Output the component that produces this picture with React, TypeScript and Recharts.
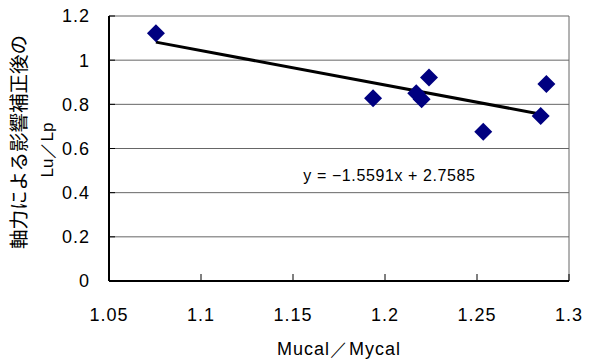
import {
  ComposedChart,
  Scatter,
  XAxis,
  YAxis,
  CartesianGrid,
  ReferenceLine,
  ReferenceDot,
} from "recharts";

// measured points (Mucal/Mycal, Lu/Lp)
const xValues = [1.0755, 1.1935, 1.217, 1.2199, 1.2239, 1.2534, 1.2846, 1.2877];
const yValues = [1.122, 0.827, 0.85, 0.823, 0.922, 0.676, 0.747, 0.892];
const xTicks = [1.05, 1.1, 1.15, 1.2, 1.25, 1.3];
const yTicks = [0, 0.2, 0.4, 0.6, 0.8, 1, 1.2];

const slope = -1.5591;
const intercept = 2.7585;
const equation = "y = −1.5591x + 2.7585";

const points = xValues.map((x, i) => ({ x, y: yValues[i] }));
const xMin = Math.min(...xValues);
const xMax = Math.max(...xValues);
const trend = [
  { x: xMin, y: slope * xMin + intercept },
  { x: xMax, y: slope * xMax + intercept },
];

const font = "'Liberation Sans', Arial, sans-serif";
const jpFont = "'Noto Sans CJK JP', sans-serif";

const Diamond = (props: any) => {
  const { cx, cy } = props;
  if (cx == null || cy == null) return null;
  const r = 9;
  return (
    <polygon
      points={`${cx},${cy - r} ${cx + r},${cy} ${cx},${cy + r} ${cx - r},${cy}`}
      fill="#000080"
    />
  );
};

const YLabel = () => (
  <g>
    <text
      x={17}
      y={142}
      transform="rotate(-90 17 142)"
      textAnchor="middle"
      dominantBaseline="central"
      fontFamily={jpFont}
      fontSize={19.5}
      fill="#000"
    >
      軸力による影響補正後の
    </text>
    <text
      x={47}
      y={150}
      transform="rotate(-90 47 150)"
      textAnchor="middle"
      dominantBaseline="central"
      fontFamily={font}
      fontSize={17}
      fill="#000"
    >
      Lu／Lp
    </text>
  </g>
);

export default function App() {
  return (
    <div style={{ position: "absolute", left: 0, top: 0, background: "#fff" }}>
      <ComposedChart
        width={594}
        height={362}
        margin={{ top: 16, right: 25, bottom: 0, left: 49 }}
      >
        <CartesianGrid vertical={false} stroke="#666" strokeWidth={1} />
        <XAxis
          type="number"
          dataKey="x"
          domain={[1.05, 1.3]}
          ticks={xTicks}
          height={81}
          axisLine={{ stroke: "#000", strokeWidth: 2 }}
          tickLine={{ stroke: "#000" }}
          tickSize={-7}
          tickMargin={34}
          tick={{ fontSize: 18, fontFamily: font, fill: "#000", letterSpacing: 1 }}
          tickFormatter={(v: number) => String(v)}
          label={{
            value: "Mucal／Mycal",
            position: "insideBottom",
            offset: 7,
            fontSize: 18,
            fontFamily: font,
            fill: "#000",
            letterSpacing: 1,
          }}
        />
        <YAxis
          type="number"
          dataKey="y"
          domain={[0, 1.2]}
          ticks={yTicks}
          width={60}
          axisLine={{ stroke: "#000", strokeWidth: 2 }}
          tickLine={{ stroke: "#000" }}
          tickSize={-6}
          tickMargin={25}
          tick={{ fontSize: 18, fontFamily: font, fill: "#000", letterSpacing: 1 }}
          tickFormatter={(v: number) => String(v)}
          label={{ content: () => <YLabel /> }}
        />
        <ReferenceLine x={1.3} stroke="#666" strokeWidth={1} />
        <Scatter
          data={trend}
          line={{ stroke: "#000", strokeWidth: 3 }}
          shape={() => null}
          isAnimationActive={false}
        />
        <Scatter data={points} shape={Diamond} isAnimationActive={false} />
        <ReferenceDot
          x={1.2024}
          y={0.4768}
          r={0}
          stroke="none"
          label={{
            value: equation,
            position: "center",
            fontSize: 16,
            fontFamily: font,
            fill: "#000",
            letterSpacing: 0.6,
          }}
        />
      </ComposedChart>
    </div>
  );
}
